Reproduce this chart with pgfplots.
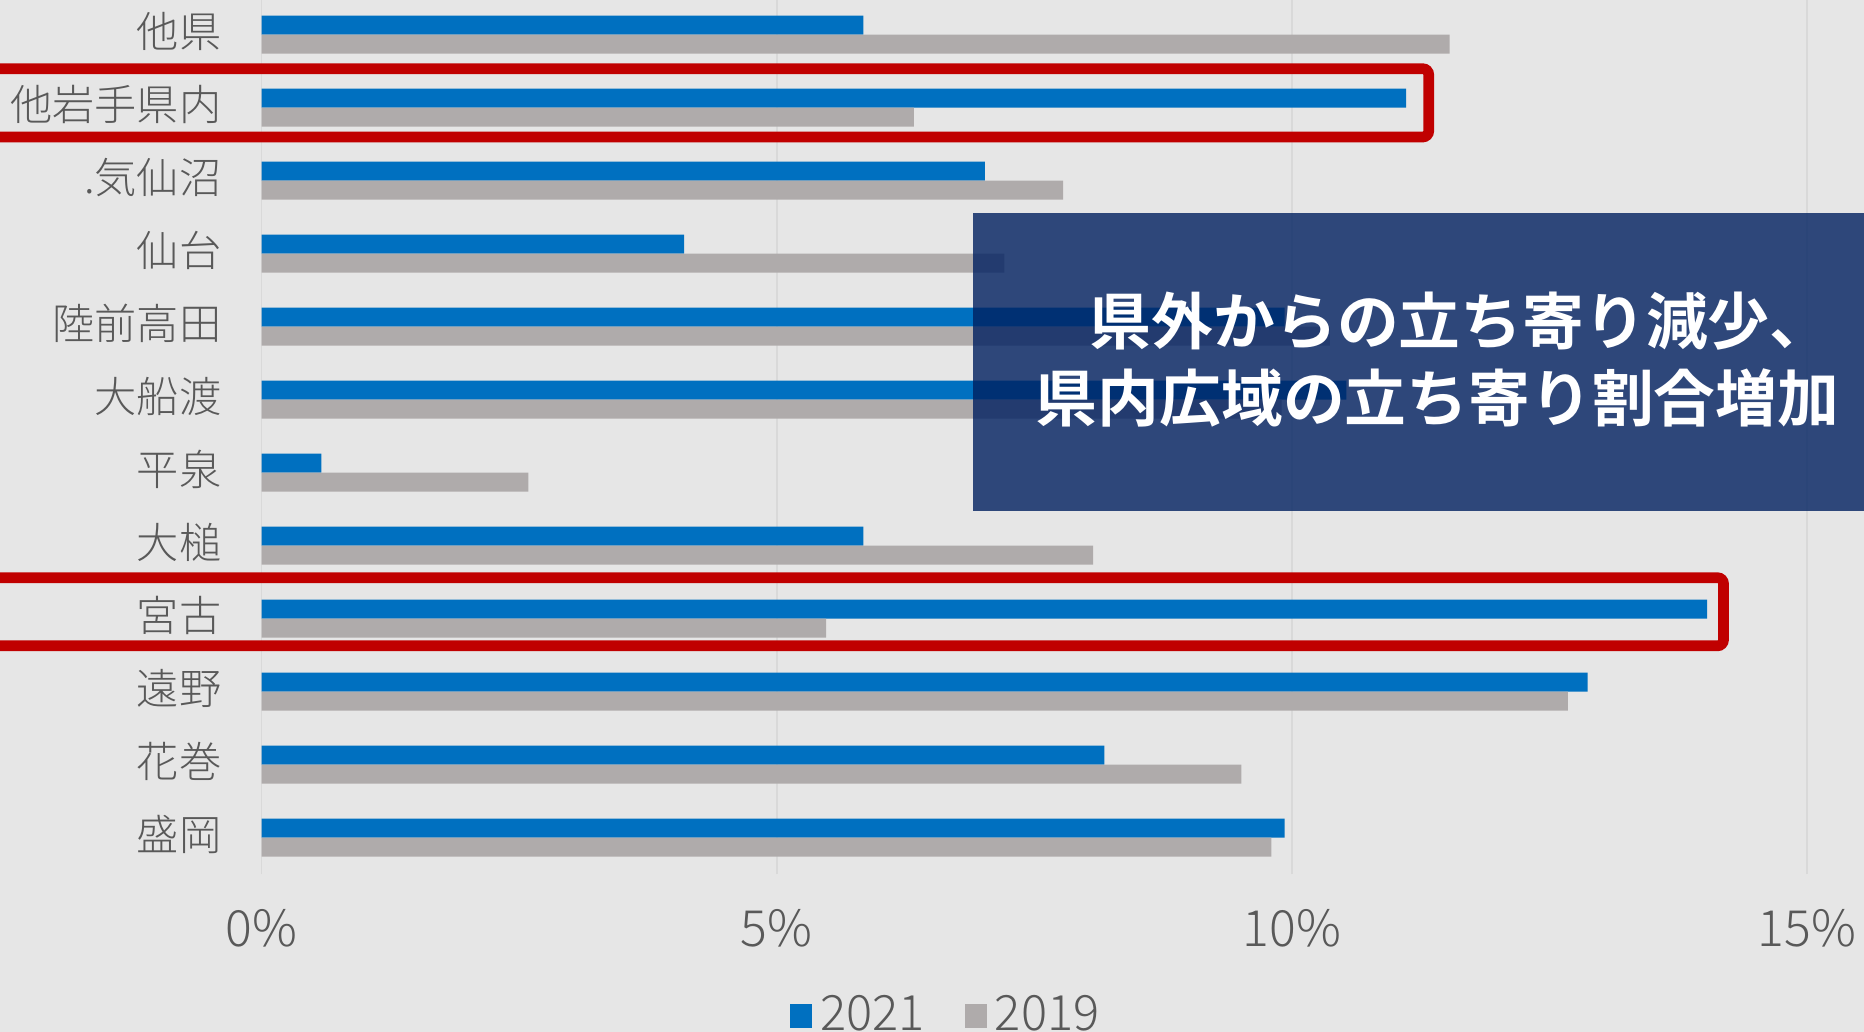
\documentclass[border=0pt]{standalone}
\usepackage{pgfplots}
\pgfplotsset{compat=1.18}
\usepackage{fontspec}
\setmainfont{Noto Sans CJK JP}
\newfontfamily\jplight{Noto Sans CJK JP Light}
\newfontfamily\jpbold{Noto Sans CJK JP Bold}
\definecolor{bg}{HTML}{E6E6E6}
\definecolor{gridc}{HTML}{D9D9D9}
\definecolor{c21}{HTML}{0070C0}
\definecolor{c19}{HTML}{AFABAB}
\definecolor{lab}{HTML}{595959}
\definecolor{redc}{HTML}{C00000}
\definecolor{navyc}{HTML}{002060}

% y index: 0 = bottom (盛岡) ... 11 = top (他県)
\pgfplotstableread{
x y
9.93 0
8.18 1
12.87 2
14.03 3
5.84 4
0.58 5
10.53 6
9.93 7
4.10 8
7.02 9
11.11 10
5.84 11
}\dataA
\pgfplotstableread{
x y
9.80 0
9.51 1
12.68 2
5.48 3
8.07 4
2.59 5
9.90 6
10.37 7
7.21 8
7.78 9
6.33 10
11.53 11
}\dataB

\begin{document}
\begin{tikzpicture}
\begin{scope}[x=0.25pt,y=-0.25pt]
\fill[bg] (-20,-20) rectangle (1900,1060);
\end{scope}
\begin{axis}[
  at={(65.4pt,-218.55pt)}, anchor=south west,
  width=386.35pt, height=219pt, scale only axis,
  xmin=0, xmax=15, ymin=-0.5, ymax=11.5,
  xbar, bar width=4.75pt,
  axis line style={draw=none}, tick style={draw=none},
  xtick={0,5,10,15}, xticklabels={0\%,5\%,10\%,15\%},
  ytick={0,1,2,3,4,5,6,7,8,9,10,11},
  yticklabels={盛岡,花巻,遠野,宮古,大槌,平泉,大船渡,陸前高田,仙台,.気仙沼,他岩手県内,他県},
  xmajorgrids, major grid style={draw=gridc, line width=0.45pt},
  x tick label style={font=\jplight\fontsize{12.5}{12.5}\selectfont, text=lab, anchor=center, yshift=-13.5pt},
  y tick label style={font=\jplight\fontsize{10.55}{10.55}\selectfont, text=lab, anchor=east, inner sep=0pt, xshift=-5.6pt, yshift=0.8pt},
  legend style={at={(0.4445,-0.1619)}, anchor=center, draw=none, fill=none,
    font=\jplight\fontsize{12.2}{12.2}\selectfont, text=lab,
    /tikz/every even column/.append style={column sep=8pt}},
  legend columns=2,
  legend image code/.code={\fill[#1] (0pt,-2.9pt) rectangle (5.6pt,2.9pt);},
]
\addplot[fill=c21, draw=none, bar shift=2.375pt] table[x=x,y=y]{\dataA};
\addlegendentry{2021}
\addplot[fill=c19, draw=none, bar shift=-2.375pt] table[x=x,y=y]{\dataB};
\addlegendentry{2019}
\end{axis}
\begin{scope}[x=0.25pt,y=-0.25pt]
\fill[navyc, opacity=0.8] (972.5,213) rectangle (1900,511);
\node[anchor=west, text=white, inner sep=0pt, font=\jpbold\fontsize{15.45}{15.45}\selectfont] at (1089,321) {県外からの立ち寄り減少、};
\node[anchor=west, text=white, inner sep=0pt, font=\jpbold\fontsize{15.45}{15.45}\selectfont] at (1035,398) {県内広域の立ち寄り割合増加};
\draw[redc, line width=2.67pt, rounded corners=1.5pt] (-40,68.7) rectangle (1428.7,137);
\draw[redc, line width=2.67pt, rounded corners=1.5pt] (-40,577.7) rectangle (1723.5,645.8);
\end{scope}
\pgfresetboundingbox
\path[use as bounding box] (0pt,0pt) rectangle (466pt,-257.75pt);
\end{tikzpicture}
\end{document}
